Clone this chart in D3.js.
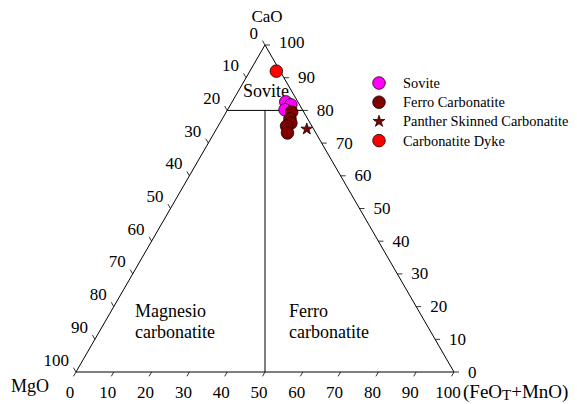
<!DOCTYPE html>
<html>
<head>
<meta charset="utf-8">
<script src="https://cdn.jsdelivr.net/npm/d3@7"></script>
<style>
  html, body { margin: 0; padding: 0; background: #fff; }
  svg { display: block; }
</style>
</head>
<body>
<div id="chart"></div>
<script>
// ---- Data (wt% fractions, CaO / MgO / FeOT+MnO) ----
const seriesNames = ["Sovite", "Ferro Carbonatite", "Panther Skinned Carbonatite", "Carbonatite Dyke"];
const seriesColors = ["#ff00ff", "#800000", "#800000", "#ff0000"];
const seriesShapes = ["circle", "circle", "star", "circle"];

const soviteCaO = [82.6, 81.7, 80.2];
const soviteMgO = [3.2, 2.3, 4.6];
const soviteFeO = [14.2, 16.0, 15.2];

const ferroCaO = [79.5, 77.4, 76.1, 75.2, 73.1];
const ferroMgO = [3.2, 4.7, 5.1, 6.7, 7.5];
const ferroFeO = [17.3, 17.9, 18.8, 18.1, 19.4];

const pantherCaO = [74.3];
const pantherMgO = [1.8];
const pantherFeO = [23.9];

const dykeCaO = [92.0];
const dykeMgO = [1.0];
const dykeFeO = [7.0];

const tickValues = [0, 10, 20, 30, 40, 50, 60, 70, 80, 90, 100];

// field boundaries (ternary coords: [CaO, MgO, FeO])
const soviteBoundary = [[80, 20, 0], [80, 0, 20]];
const mgFeBoundary = [[80, 10, 10], [0, 50, 50]];

// ---- Layout ----
const W = 577, H = 404;
const FONT = '"Liberation Serif", "Times New Roman", serif';
const svg = d3.select("#chart").append("svg").attr("width", W).attr("height", H)
  .style("font-family", FONT);

const xScale = d3.scaleLinear().domain([0, 100]).range([76, 454]);
const yScale = d3.scaleLinear().domain([0, 100]).range([372, 45]);
const proj = (ca, mg, fe) => {
  const s = ca + mg + fe;
  const c = ca / s * 100, f = fe / s * 100;
  return [xScale(f + c / 2), yScale(c)];
};

// triangle
const tri = [proj(100, 0, 0), proj(0, 100, 0), proj(0, 0, 100)];
svg.append("path")
  .attr("d", d3.line()(tri) + "Z")
  .attr("fill", "none").attr("stroke", "#000").attr("stroke-width", 1);

// boundaries
[soviteBoundary, mgFeBoundary].forEach(b => {
  svg.append("path")
    .attr("d", d3.line()(b.map(p => proj(p[0], p[1], p[2]))))
    .attr("fill", "none").attr("stroke", "#000").attr("stroke-width", 1);
});

// ticks + labels
const tl = 5;
const s3 = Math.sqrt(3) / 2;
const gTick = svg.append("g").attr("stroke", "#000").attr("stroke-width", 0.8);
const gLab = svg.append("g").style("font-size", "17px").style("font-family", FONT);

tickValues.forEach(v => {
  // bottom: FeO
  let p = proj(0, 100 - v, v);
  gTick.append("line").attr("x1", p[0]).attr("y1", p[1])
    .attr("x2", p[0] - 0.5 * tl).attr("y2", p[1] + s3 * tl);
  gLab.append("text").attr("x", p[0] - 6).attr("y", p[1] + 20)
    .attr("text-anchor", "middle").attr("dominant-baseline", "central").text(v);
  // left: MgO
  p = proj(100 - v, v, 0);
  gTick.append("line").attr("x1", p[0]).attr("y1", p[1])
    .attr("x2", p[0] - 0.5 * tl).attr("y2", p[1] - s3 * tl);
  gLab.append("text").attr("x", p[0] - 7).attr("y", p[1] - 12)
    .attr("text-anchor", "end").attr("dominant-baseline", "central").text(v);
  // right: CaO
  p = proj(v, 0, 100 - v);
  gTick.append("line").attr("x1", p[0]).attr("y1", p[1])
    .attr("x2", p[0] + tl).attr("y2", p[1]);
  gLab.append("text").attr("x", p[0] + 14).attr("y", p[1] - (v === 100 ? 3 : 0))
    .attr("text-anchor", "start").attr("dominant-baseline", "central").text(v);
});

// axis titles
svg.append("text").attr("x", 267).attr("y", 16).attr("text-anchor", "middle")
  .attr("dominant-baseline", "central").style("font-size", "17px").text("CaO");
svg.append("text").attr("x", 11).attr("y", 386)
  .attr("dominant-baseline", "central").style("font-size", "18px").text("MgO");
const fe = svg.append("text").attr("x", 463).attr("y", 391)
  .attr("dominant-baseline", "central").style("font-size", "19px");
fe.append("tspan").text("(FeO");
fe.append("tspan").attr("dy", 4).style("font-size", "15px").text("T");
fe.append("tspan").attr("dy", -4).text("+MnO)");

// field labels
const fl = svg.append("g").style("font-size", "18px");
fl.append("text").attr("x", 266).attr("y", 91).attr("text-anchor", "middle")
  .attr("dominant-baseline", "central").text("Sovite");
fl.append("text").attr("x", 135).attr("y", 311).attr("dominant-baseline", "central").text("Magnesio");
fl.append("text").attr("x", 135).attr("y", 332).attr("dominant-baseline", "central").text("carbonatite");
fl.append("text").attr("x", 289).attr("y", 311).attr("dominant-baseline", "central").text("Ferro");
fl.append("text").attr("x", 289).attr("y", 332).attr("dominant-baseline", "central").text("carbonatite");

// points
const series = [
  { ca: soviteCaO, mg: soviteMgO, fe: soviteFeO },
  { ca: ferroCaO, mg: ferroMgO, fe: ferroFeO },
  { ca: pantherCaO, mg: pantherMgO, fe: pantherFeO },
  { ca: dykeCaO, mg: dykeMgO, fe: dykeFeO }
];
const circleSym = d3.symbol().type(d3.symbolCircle).size(Math.PI * 6.3 * 6.3);
const starSym = d3.symbol().type(d3.symbolStar).size(42);
const gPts = svg.append("g");
series.forEach((s, i) => {
  s.ca.forEach((c, j) => {
    const p = proj(c, s.mg[j], s.fe[j]);
    gPts.append("path")
      .attr("d", seriesShapes[i] === "star" ? starSym() : circleSym())
      .attr("transform", `translate(${p[0]},${p[1]})`)
      .attr("fill", seriesColors[i])
      .attr("stroke", "#1a0000").attr("stroke-width", 0.8);
  });
});

// legend
const lg = svg.append("g").style("font-size", "14.4px");
seriesNames.forEach((n, i) => {
  const y = 83 + i * 19.2;
  lg.append("path")
    .attr("d", seriesShapes[i] === "star" ? starSym() : circleSym())
    .attr("transform", `translate(379,${y})`)
    .attr("fill", seriesColors[i]).attr("stroke", "#1a0000").attr("stroke-width", 0.8);
  lg.append("text").attr("x", 403).attr("y", y).attr("dominant-baseline", "central").text(n);
});
</script>
</body>
</html>
